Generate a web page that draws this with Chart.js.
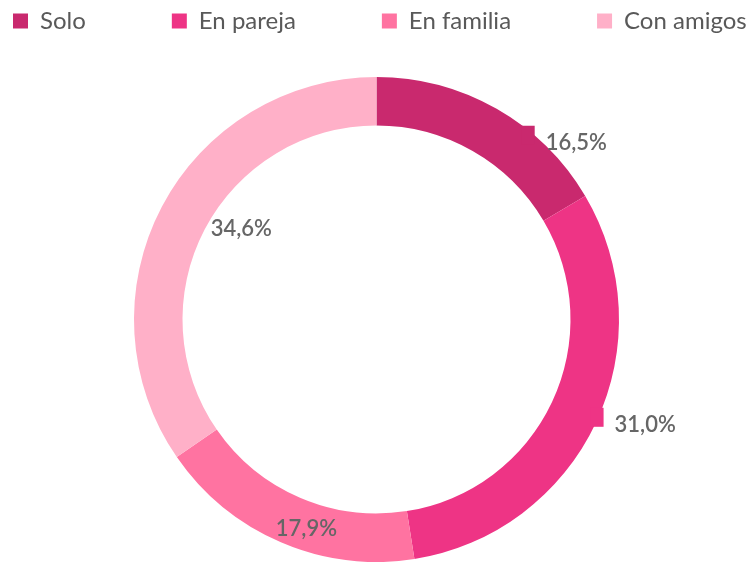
<!DOCTYPE html>
<html>
<head>
<meta charset="utf-8">
<script src="https://cdn.jsdelivr.net/npm/chart.js@4/dist/chart.umd.min.js"></script>
<style>
  html, body { margin: 0; padding: 0; background: #fff; }
  #wrap { width: 753px; height: 562px; }
</style>
</head>
<body>
<div id="wrap"><canvas id="chart"></canvas></div>
<script>
// datos del gráfico
const categories = ['Solo', 'En pareja', 'En familia', 'Con amigos'];
const shares = [16.5, 31.0, 17.9, 34.6];
const sliceColors = ['#C9296E', '#EE3485', '#FF73A1', '#FFB0C8'];

// posición de las etiquetas: giro (grados) y factor del radio exterior
const labelPlacement = [
    { turn: 18.8, r: 1.10 },
    { turn: -3.8, r: 1.19 },
    { turn: -4.7, r: 0.91 },
    { turn: 6.0, r: 0.67 }
];

const textColor = '#666666';
const fontFamily = 'Lato, "Open Sans", sans-serif';

// etiquetas con porcentaje (coma decimal)
const pctLabels = {
    id: 'pctLabels',
    afterDatasetsDraw(chart) {
        const ctx = chart.ctx;
        const meta = chart.getDatasetMeta(0);
        ctx.save();
        ctx.font = '600 22px ' + fontFamily;
        ctx.textAlign = 'center';
        ctx.textBaseline = 'middle';
        meta.data.forEach((arc, i) => {
            const p = arc.getProps(['x', 'y', 'startAngle', 'endAngle', 'outerRadius'], true);
            const place = labelPlacement[i];
            const mid = (p.startAngle + p.endAngle) / 2 + place.turn * Math.PI / 180;
            const rr = p.outerRadius * place.r;
            const x = p.x + Math.cos(mid) * rr;
            const y = p.y + Math.sin(mid) * rr;
            const txt = shares[i].toFixed(1).replace('.', ',') + '%';
            if (place.r > 1) {
                // pequeño trazo guía como en el original
                const w = ctx.measureText(txt).width;
                ctx.fillStyle = sliceColors[i];
                ctx.fillRect(x - w / 2 - 24, y - 17, 13, 19);
            }
            ctx.fillStyle = textColor;
            ctx.fillText(txt, x, y);
        });
        ctx.restore();
    }
};

// leyenda arriba en una sola fila, con separación amplia
const legendSpacing = {
    id: 'legendSpacing',
    beforeInit(chart) {
        const fit = chart.legend.fit;
        chart.legend.fit = function () {
            this.maxWidth = 3000;
            fit.call(this);
            this.width = chart.width;
            this.height = 77;
        };
    },
    afterLayout(chart) {
        const lg = chart.legend;
        const pad = lg.options.labels.padding;
        const R = 3000;
        lg.top = 20 - pad - 11;
        lg.right = R;
        lg.left = 2 * 13 - pad - R + lg.lineWidths[0];
    }
};

new Chart(document.getElementById('chart'), {
    type: 'doughnut',
    data: {
        labels: categories,
        datasets: [{
            data: shares,
            backgroundColor: sliceColors,
            borderWidth: 0
        }]
    },
    options: {
        responsive: true,
        maintainAspectRatio: false,
        animation: false,
        cutout: '80%',
        layout: { padding: 0 },
        plugins: {
            legend: {
                position: 'top',
                labels: {
                    boxWidth: 15,
                    boxHeight: 15,
                    padding: 86,
                    color: '#595959',
                    font: { family: fontFamily, size: 24 }
                }
            },
            tooltip: { enabled: false }
        }
    },
    plugins: [pctLabels, legendSpacing]
});
</script>
</body>
</html>
